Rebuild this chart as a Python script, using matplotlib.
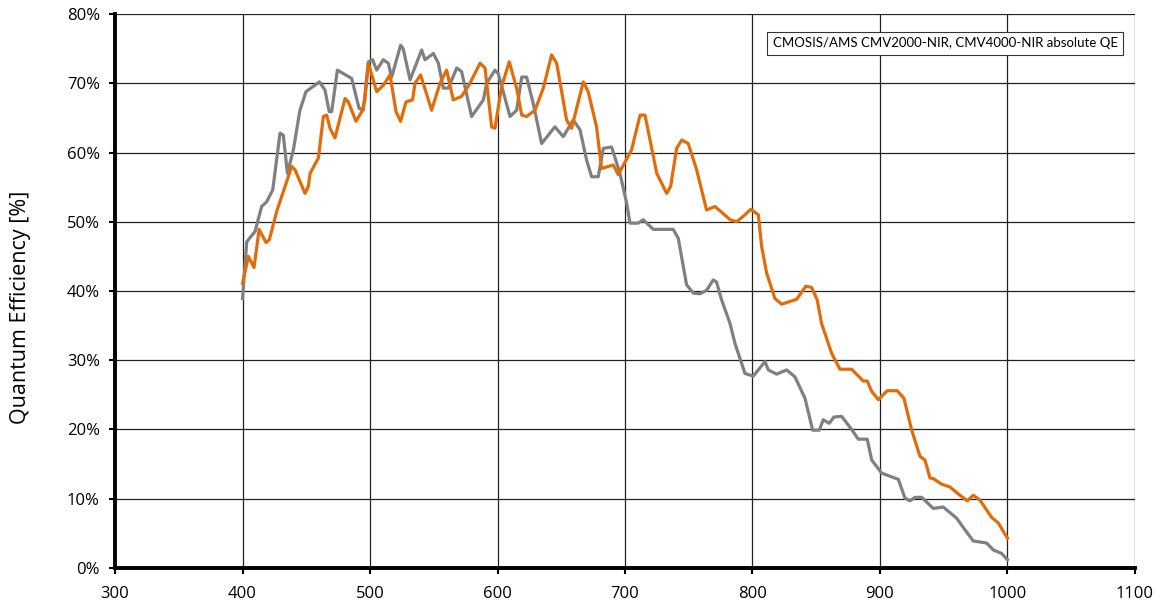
import matplotlib
matplotlib.use('Agg')
from matplotlib import pyplot as plt
from matplotlib.ticker import FuncFormatter

# wavelength [nm] / QE [%]
nm_orange = [400, 404.6, 409, 413, 418.4, 421, 426.8, 438.6, 441.2, 449, 451.6, 453, 459.5, 463.4, 466,
             468.6, 472.5, 480.4, 483, 489, 493.5, 496, 498.7, 505.2, 510.4, 515.7, 520.4, 524, 528.2,
             533.4, 535.3, 539.7, 548.3, 554.9, 560.1, 565.3, 571.8, 578.4, 586.3, 590.2, 595.4, 598,
             603.2, 609.2, 615, 619, 622.8, 629.4, 635.9, 642.4, 646.4, 654.2, 658.1, 667.3, 671.1,
             677.7, 681.6, 690.8, 694.7, 705.2, 711.8, 715.7, 724.9, 732.7, 735.8, 740.5, 744.5, 749.6,
             756.2, 764, 770.6, 782.4, 787.6, 794.1, 798.6, 804.6, 807.2, 811.1, 817.6, 822.9, 834.6,
             841.9, 846.4, 850.8, 854.2, 862.1, 868.6, 877.8, 886.9, 890, 893.5, 898.7, 905.7, 913.6,
             918.8, 924.9, 931.4, 935.3, 939.2, 941.8, 948.4, 954.9, 962.7, 968.5, 973.2, 978.4, 987.6,
             992.8, 1000]
qe_orange = [41.1, 45.0, 43.4, 48.9, 47.0, 47.4, 51.5, 58.0, 57.5, 54.1, 55.1, 57.0, 59.2, 65.2, 65.4,
             63.5, 62.1, 67.8, 67.3, 64.5, 65.9, 67.6, 72.9, 68.8, 69.7, 71.2, 65.9, 64.5, 67.3,
             67.6, 70.0, 71.2, 66.1, 70.0, 71.9, 67.6, 68.1, 70.0, 72.9, 72.2, 63.7, 63.5,
             69.5, 73.1, 69.3, 65.4, 65.2, 66.1, 69.3, 74.1, 72.9, 64.7, 63.5, 70.2, 68.8,
             63.7, 57.7, 58.2, 56.8, 60.4, 65.4, 65.4, 57.0, 54.1, 55.1, 60.6, 61.8, 61.3,
             57.5, 51.7, 52.2, 50.3, 50.0, 51.0, 51.8, 51.0, 46.4, 42.6, 38.9, 38.1, 38.8,
             40.7, 40.5, 38.7, 35.3, 31.0, 28.7, 28.7, 27.0, 27.0, 25.5, 24.3, 25.6, 25.6,
             24.5, 19.9, 16.1, 15.6, 13.0, 12.9, 12.1, 11.7, 10.5, 9.7, 10.5, 9.8, 7.3,
             6.5, 4.3]

nm_gray = [400, 403.3, 409.8, 415, 419, 423.7, 429.4, 432, 435.2, 439.9, 445, 449.8, 460.3, 464.7, 468,
           469.9, 474.4, 485.6, 491.4, 494.7, 498.7, 502, 505.2, 510.4, 514.3, 517, 524, 526, 531.4,
           540.5, 543.1, 549.7, 553.6, 557.5, 561.4, 568, 571.8, 579.7, 588.9, 591.5, 598, 600.6,
           609.8, 615, 619, 622.8, 628, 634.6, 645, 651.6, 659.4, 664.7, 669.9, 673.8, 679, 683,
           689.5, 696, 701.3, 703.9, 710.4, 714.3, 722.2, 737.8, 741.8, 748.3, 753.6, 758.8, 764,
           769.2, 771.8, 775.8, 782.4, 786.3, 794.1, 800.6, 809.8, 812.4, 818.9, 826.8, 833.3, 841.2,
           847.2, 852.4, 855.5, 860.2, 863.9, 869.9, 877.8, 883, 890, 893.5, 901.3, 914.4, 919.6,
           923.5, 927.5, 932.7, 941.8, 949.6, 960.1, 966.7, 973.2, 983.7, 988.9, 995.4, 1000]
qe_gray = [38.9, 47.1, 48.6, 52.2, 52.9, 54.6, 62.8, 62.5, 57.0, 60.4, 66.1, 68.8, 70.2, 69.0, 65.9,
           65.9, 71.9, 70.7, 66.4, 66.1, 73.1, 73.4, 71.9, 73.4, 72.9, 70.9, 75.5, 75.0, 70.5,
           74.8, 73.4, 74.3, 72.9, 69.3, 69.3, 72.2, 71.7, 65.2, 67.6, 70.0, 71.9, 71.4,
           65.2, 66.1, 70.9, 70.9, 67.1, 61.3, 63.7, 62.3, 64.7, 63.3, 58.9, 56.5, 56.5, 60.6,
           60.8, 57.0, 52.7, 49.8, 49.8, 50.3, 48.9, 48.9, 47.6, 40.9, 39.7, 39.6, 40.1,
           41.6, 41.3, 38.7, 35.3, 32.4, 28.1, 27.7, 29.8, 28.6, 28.0, 28.6, 27.6, 24.5,
           19.9, 19.9, 21.4, 20.9, 21.8, 21.9, 20.0, 18.6, 18.6, 15.6, 13.7, 12.8, 10.1,
           9.7, 10.2, 10.2, 8.6, 8.8, 7.2, 5.5, 3.9, 3.6, 2.6, 2.1, 1.2]

legend_text = 'CMOSIS/AMS CMV2000-NIR, CMV4000-NIR absolute QE'

plt.rcParams['font.family'] = ['Open Sans', 'DejaVu Sans']

fig = plt.figure(figsize=(11.68, 6.10), dpi=100)
ax = fig.add_axes([0.0985, 0.0689, 0.8732, 0.9081])

ax.plot(nm_gray, qe_gray, color='#808080', linewidth=2.3, solid_joinstyle='round')
ax.plot(nm_orange, qe_orange, color='#E36C0A', linewidth=2.3, solid_joinstyle='round')

ax.set_xlim(300, 1100)
ax.set_ylim(0, 80)
ax.set_xticks(range(300, 1101, 100))
ax.set_yticks(range(0, 81, 10))
ax.yaxis.set_major_formatter(FuncFormatter(lambda v, p: '%d%%' % v))
ax.grid(True, color='#222222', linewidth=0.9)
ax.set_axisbelow(True)

for s in ['top', 'right']:
    ax.spines[s].set_visible(False)
for s in ['left', 'bottom']:
    ax.spines[s].set_linewidth(2.8)
ax.tick_params(axis='both', direction='out', length=4, width=1.5, labelsize=12)
ax.tick_params(axis='x', pad=9)
ax.tick_params(axis='y', pad=7)

ax.set_ylabel('Quantum Efficiency [%]', fontsize=15.5, va='center')
ax.yaxis.set_label_coords(-0.093, 0.47)

ax.text(0.983, 0.958, legend_text, transform=ax.transAxes, ha='right', va='top',
        fontsize=9.5, family=['Lato', 'DejaVu Sans'],
        bbox=dict(boxstyle='square,pad=0.4', facecolor='white', edgecolor='#333333', linewidth=0.8))

plt.savefig('out.png', dpi=100)
